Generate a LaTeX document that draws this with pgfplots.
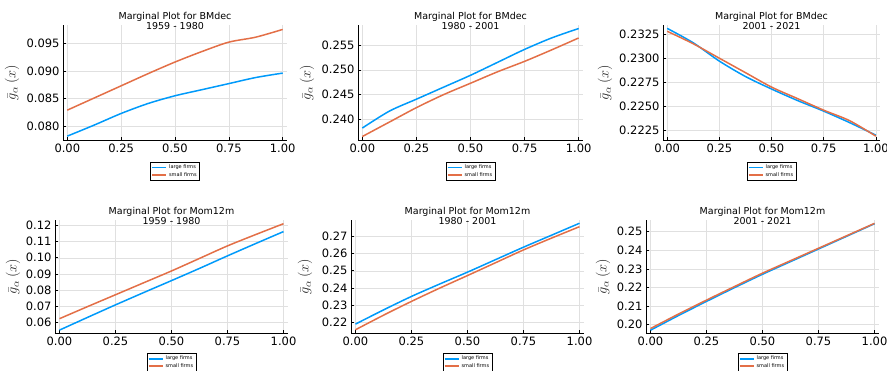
\documentclass[border=0pt]{standalone}
\usepackage{fontspec}
\setmainfont{DejaVu Sans}
\usepackage{pgfplots}
\pgfplotsset{compat=1.18}
\definecolor{jblue}{RGB}{0,154,250}
\definecolor{jorange}{RGB}{227,111,71}
\pgfplotsset{
  mp/.style={
    scale only axis,
    anchor=south west,
    xmin=-0.02, xmax=1.02,
    axis lines*=left,
    axis line style={line width=0.9pt, -},
    xtick={0,0.25,0.5,0.75,1},
    xticklabel style={/pgf/number format/fixed, /pgf/number format/fixed zerofill, /pgf/number format/precision=2},
    scaled y ticks=false,
    grid=major,
    major grid style={black!12, line width=0.5pt},
    tick style={black, line width=0.6pt},
    major tick length=3pt,
    tick align=inside,
    ticklabel style={font=\fontsize{11.5}{12}\selectfont},
    /pgf/number format/assume math mode=true,
    title style={font=\fontsize{9.5}{9.5}\selectfont, align=center, at={(0.5,1)}, anchor=south, yshift=-14pt},
    ylabel={$\bar{g}_{\alpha}\,(x)$},
    label style={font=\fontsize{14}{14}\selectfont, color=black!85},
    legend style={at={(0.5,0)}, anchor=north, yshift=-22pt, font=\fontsize{5}{5}\selectfont, draw=black, line width=0.6pt, inner sep=0.8pt, row sep=-2pt},
    legend cell align=left,
    legend image code/.code={\draw[#1, line width=1.5pt] (0,0) -- (0.5cm,0);},
    every axis plot/.append style={line width=1.5pt, no marks, smooth},
  },
  yl/.style={ylabel style={at={(axis description cs:#1,0.5)}, anchor=center}},
  bottomleg/.style={legend style={yshift=2pt}},
}
\begin{document}
\begin{tikzpicture}
\path[use as bounding box] (0,0) rectangle (887pt,370pt);
% ---------- Panel 1
\begin{axis}[mp, at={(63pt,230pt)}, width=224pt, height=115pt, yl=-0.228,
  ymin=0.0775, ymax=0.0983, ytick={0.080,0.085,0.090,0.095},
  yticklabel style={/pgf/number format/fixed, /pgf/number format/fixed zerofill, /pgf/number format/precision=3},
  title={Marginal Plot for BMdec\\1959 - 1980}]
\addplot[jblue] coordinates {(0,0.0782) (0.125,0.0802) (0.25,0.0823) (0.375,0.0841) (0.5,0.0855) (0.625,0.0866) (0.75,0.0877) (0.875,0.0888) (1,0.0896)};
\addplot[jorange] coordinates {(0,0.0829) (0.125,0.0851) (0.25,0.0873) (0.375,0.0895) (0.5,0.0916) (0.625,0.0935) (0.75,0.0952) (0.875,0.0961) (1,0.0975)};
\legend{large firms, small firms}
\end{axis}
% ---------- Panel 2
\begin{axis}[mp, at={(358pt,230pt)}, width=225pt, height=115pt, yl=-0.227,
  ymin=0.2359, ymax=0.2590, ytick={0.240,0.245,0.250,0.255},
  yticklabel style={/pgf/number format/fixed, /pgf/number format/fixed zerofill, /pgf/number format/precision=3},
  title={Marginal Plot for BMdec\\1980 - 2001}]
\addplot[jblue] coordinates {(0,0.2383) (0.125,0.2417) (0.25,0.2441) (0.375,0.2465) (0.5,0.2489) (0.625,0.2515) (0.75,0.2541) (0.875,0.2564) (1,0.2583)};
\addplot[jorange] coordinates {(0,0.2366) (0.125,0.2395) (0.25,0.2424) (0.375,0.2450) (0.5,0.2473) (0.625,0.2496) (0.75,0.2517) (0.875,0.2540) (1,0.2564)};
\legend{large firms, small firms}
\end{axis}
% ---------- Panel 3
\begin{axis}[mp, at={(663pt,230pt)}, width=217pt, height=115pt, yl=-0.267,
  ymin=0.2215, ymax=0.23345, ytick={0.2225,0.2250,0.2275,0.2300,0.2325},
  yticklabel style={/pgf/number format/fixed, /pgf/number format/fixed zerofill, /pgf/number format/precision=4},
  title={Marginal Plot for BMdec\\2001 - 2021}]
\addplot[jblue] coordinates {(0,0.2331) (0.125,0.2316) (0.25,0.2297) (0.375,0.2281) (0.5,0.2268) (0.625,0.2256) (0.75,0.2245) (0.875,0.2233) (1,0.2220)};
\addplot[jorange] coordinates {(0,0.2328) (0.125,0.2315) (0.25,0.2300) (0.375,0.2285) (0.5,0.2270) (0.625,0.2258) (0.75,0.2246) (0.875,0.2235) (1,0.2219)};
\legend{large firms, small firms}
\end{axis}
% ---------- Panel 4
\begin{axis}[mp, bottomleg, at={(55pt,37pt)}, width=233pt, height=113pt, yl=-0.180,
  ymin=0.0532, ymax=0.1235, ytick={0.06,0.07,0.08,0.09,0.10,0.11,0.12},
  yticklabel style={/pgf/number format/fixed, /pgf/number format/fixed zerofill, /pgf/number format/precision=2},
  title={Marginal Plot for Mom12m\\1959 - 1980}]
\addplot[jblue] coordinates {(0,0.0550) (0.125,0.0629) (0.25,0.0707) (0.375,0.0783) (0.5,0.0858) (0.625,0.0934) (0.75,0.1012) (0.875,0.1088) (1,0.1163)};
\addplot[jorange] coordinates {(0,0.0621) (0.125,0.0696) (0.25,0.0770) (0.375,0.0844) (0.5,0.0918) (0.625,0.0996) (0.75,0.1074) (0.875,0.1144) (1,0.1212)};
\legend{large firms, small firms}
\end{axis}
% ---------- Panel 5
\begin{axis}[mp, bottomleg, at={(351pt,37pt)}, width=233pt, height=113pt, yl=-0.197,
  ymin=0.2136, ymax=0.2797, ytick={0.22,0.23,0.24,0.25,0.26,0.27},
  yticklabel style={/pgf/number format/fixed, /pgf/number format/fixed zerofill, /pgf/number format/precision=2},
  title={Marginal Plot for Mom12m\\1980 - 2001}]
\addplot[jblue] coordinates {(0,0.2188) (0.125,0.2271) (0.25,0.2350) (0.375,0.2422) (0.5,0.2492) (0.625,0.2565) (0.75,0.2638) (0.875,0.2708) (1,0.2778)};
\addplot[jorange] coordinates {(0,0.2155) (0.125,0.2240) (0.25,0.2321) (0.375,0.2398) (0.5,0.2472) (0.625,0.2547) (0.75,0.2622) (0.875,0.2691) (1,0.2758)};
\legend{large firms, small firms}
\end{axis}
% ---------- Panel 6
\begin{axis}[mp, bottomleg, at={(646pt,37pt)}, width=233pt, height=113pt, yl=-0.185,
  ymin=0.1955, ymax=0.2563, ytick={0.20,0.21,0.22,0.23,0.24,0.25},
  yticklabel style={/pgf/number format/fixed, /pgf/number format/fixed zerofill, /pgf/number format/precision=2},
  title={Marginal Plot for Mom12m\\2001 - 2021}]
\addplot[jblue] coordinates {(0,0.1970) (0.125,0.2049) (0.25,0.2125) (0.375,0.2199) (0.5,0.2271) (0.625,0.2339) (0.75,0.2407) (0.875,0.2475) (1,0.2543)};
\addplot[jorange] coordinates {(0,0.1979) (0.125,0.2057) (0.25,0.2132) (0.375,0.2205) (0.5,0.2277) (0.625,0.2344) (0.75,0.2411) (0.875,0.2478) (1,0.2545)};
\legend{large firms, small firms}
\end{axis}
\end{tikzpicture}
\end{document}
